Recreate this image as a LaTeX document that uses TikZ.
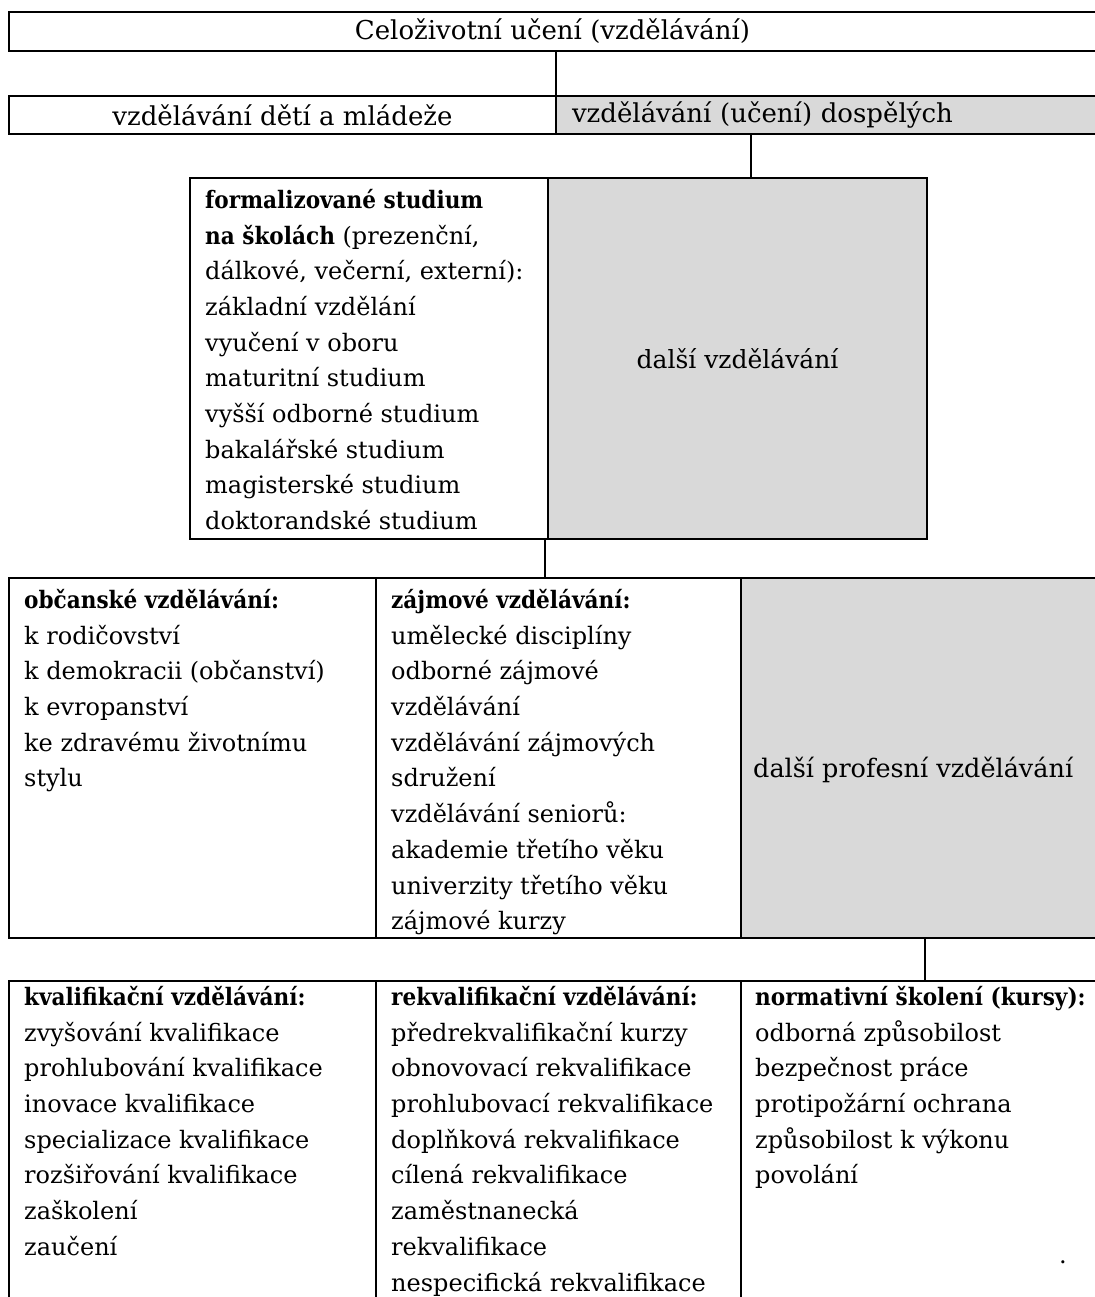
\documentclass[tikz,border=0pt]{standalone}
\usepackage{fontspec}
\setmainfont{DejaVu Serif}[BoldFont={DejaVu Serif Condensed Bold}]
\usetikzlibrary{positioning}
\definecolor{boxgray}{RGB}{217,217,217}
\tikzset{
  cell/.style={rectangle, draw, line width=2.8pt, inner sep=0pt, outer sep=0pt, anchor=north west, font=\fontsize{24}{35.7}\selectfont},
  graycell/.style={cell, fill=boxgray},
  headcell/.style={cell, font=\fontsize{26}{30}\selectfont},
  txt/.style={anchor=north west, inner sep=0pt, align=left, font=\fontsize{24}{35.7}\selectfont},
  link/.style={draw, line width=2pt}
}

\begin{document}
\begin{tikzpicture}[x=1pt, y=-1pt]
  \useasboundingbox (0,0) rectangle (1094,1297);

  % top
  \node[headcell, minimum width=1087pt, minimum height=39pt] (life) at (9,12) {Celoživotní učení (vzdělávání)};

  % children / adults
  \node[headcell, minimum width=547pt, minimum height=38pt] (kids) at (9,96) {vzdělávání dětí a mládeže};
  \node[headcell, fill=boxgray, minimum width=540pt, minimum height=38pt, inner xsep=16pt, text width=508pt, align=left] (adults) at (556,96) {vzdělávání (učení) dospělých};

  % formal / further
  \node[cell, minimum width=358pt, minimum height=361pt] (formal) at (190,178) {};
  \node[graycell, minimum width=379pt, minimum height=361pt, font=\fontsize{25}{30}\selectfont] (further) at (548,178) {další vzdělávání};
  \node[txt] (formaltxt) at (205,189) {\textbf{formalizované studium}\\
    \textbf{na školách} (prezenční,\\
    dálkové, večerní, externí):\\
    základní vzdělání\\
    vyučení v oboru\\
    maturitní studium\\
    vyšší odborné studium\\
    bakalářské studium\\
    magisterské studium\\
    doktorandské studium};

  % civic / hobby / professional
  \node[cell, minimum width=367pt, minimum height=360pt] (civic) at (9,578) {};
  \node[cell, minimum width=365pt, minimum height=360pt] (hobby) at (376,578) {};
  \node[graycell, minimum width=355pt, minimum height=360pt] (prof) at (741,578) {};
  \node[txt] (civictxt) at (24,589) {\textbf{občanské vzdělávání:}\\
    k rodičovství\\
    k demokracii (občanství)\\
    k evropanství\\
    ke zdravému životnímu\\
    stylu};
  \node[txt] (hobbytxt) at (391,589) {\textbf{zájmové vzdělávání:}\\
    umělecké disciplíny\\
    odborné zájmové\\
    vzdělávání\\
    vzdělávání zájmových\\
    sdružení\\
    vzdělávání seniorů:\\
    akademie třetího věku\\
    univerzity třetího věku\\
    zájmové kurzy};
  \node[txt, anchor=west, font=\fontsize{25.5}{30}\selectfont] (proftxt) at ([xshift=12pt, yshift=-12pt]prof.west) {další profesní vzdělávání};

  % qualification / requalification / normative
  \node[cell, minimum width=367pt, minimum height=400pt] (qual) at (9,981) {};
  \node[cell, minimum width=365pt, minimum height=400pt] (requal) at (376,981) {};
  \node[cell, minimum width=355pt, minimum height=400pt] (norm) at (741,981) {};
  \node[txt] (qualtxt) at (24,986) {\textbf{kvalifikační vzdělávání:}\\
    zvyšování kvalifikace\\
    prohlubování kvalifikace\\
    inovace kvalifikace\\
    specializace kvalifikace\\
    rozšiřování kvalifikace\\
    zaškolení\\
    zaučení};
  \node[txt] (requaltxt) at (391,986) {\textbf{rekvalifikační vzdělávání:}\\
    předrekvalifikační kurzy\\
    obnovovací rekvalifikace\\
    prohlubovací rekvalifikace\\
    doplňková rekvalifikace\\
    cílená rekvalifikace\\
    zaměstnanecká\\
    rekvalifikace\\
    nespecifická rekvalifikace};
  \node[txt] (normtxt) at (755,986) {\textbf{normativní školení (kursy):}\\
    odborná způsobilost\\
    bezpečnost práce\\
    protipožární ochrana\\
    způsobilost k výkonu\\
    povolání};
  \node[txt, anchor=base] (dot) at (1063,1263) {.};

  % connectors
  \coordinate (j2) at (751,0);
  \coordinate (j3) at (545,0);
  \coordinate (j4) at (925,0);
  \path[link] (kids.north east |- life.south) -- (kids.north east);
  \path[link] (adults.south -| j2) -- (further.north -| j2);
  \path[link] (formal.south -| j3) -- (hobby.north -| j3);
  \path[link] (prof.south -| j4) -- (norm.north -| j4);
\end{tikzpicture}
\end{document}
